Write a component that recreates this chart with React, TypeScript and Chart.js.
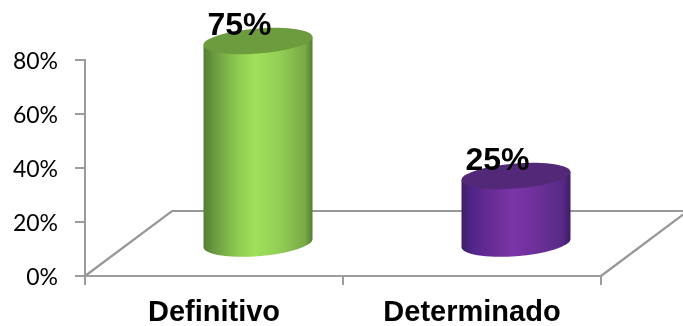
import React, { useEffect, useRef } from "react";
import { Chart, registerables } from "chart.js";

Chart.register(...registerables);

const categories = ["Definitivo", "Determinado"];
const shares = [75, 25];
const sideStops = [
  ["#527f34", "#6a9a40", "#8cc850", "#a0e05c", "#92ce55", "#79aa47", "#517e32"],
  ["#3f1d66", "#52258a", "#6a2e96", "#7b35a8", "#6c2f99", "#572a86", "#3f1d64"],
];
const capColors = ["#6c9c3e", "#532879"];
const stopOffsets = [0, 0.1, 0.3, 0.47, 0.7, 0.93, 1];
const axisColor = "#9c9c9c";
const floorColor = "#989898";

// Floor depth in pixels; cylinders stand in the middle of it.
const depthX = 87;
const depthY = 65;
const standX = 44;
const standY = 32;
const tilt = 4 / 54.5;
const capRadiusY = 12.6;
const baseRadiusY = 13.2;

const cylinderPlugin = {
  id: "cylinders",
  beforeDatasetsDraw(chart: any) {
    const { ctx, chartArea: a } = chart;
    ctx.save();
    ctx.strokeStyle = floorColor;
    ctx.lineWidth = 2.2;
    ctx.beginPath();
    ctx.moveTo(a.left, a.bottom);
    ctx.lineTo(a.left + depthX, a.bottom - depthY);
    ctx.lineTo(a.right + depthX, a.bottom - depthY);
    ctx.lineTo(a.right, a.bottom);
    ctx.stroke();
    ctx.restore();
  },
  afterDatasetsDraw(chart: any) {
    const { ctx } = chart;
    const bars = chart.getDatasetMeta(0).data;
    bars.forEach((bar: any, i: number) => {
      const r = bar.width / 2;
      const cx = bar.x + standX;
      const topY = bar.y - standY - 0.5;
      const baseY = bar.base - standY;
      const h = baseY - topY;

      ctx.save();
      ctx.transform(1, -tilt, 0, 1, cx, topY);
      const grad = ctx.createLinearGradient(-r, 0, r, 0);
      sideStops[i].forEach((c, k) => grad.addColorStop(stopOffsets[k], c));
      ctx.fillStyle = grad;
      ctx.beginPath();
      ctx.moveTo(-r, 0);
      ctx.lineTo(-r, h);
      ctx.ellipse(0, h, r, baseRadiusY, 0, Math.PI, 0, true);
      ctx.lineTo(r, 0);
      ctx.closePath();
      ctx.fill();

      ctx.fillStyle = capColors[i];
      ctx.beginPath();
      ctx.ellipse(0, 0, r, capRadiusY, 0, 0, Math.PI * 2);
      ctx.fill();
      ctx.restore();
    });

    ctx.save();
    ctx.fillStyle = "#000000";
    ctx.font = "bold 32px 'Liberation Sans'";
    ctx.textAlign = "center";
    ctx.textBaseline = "alphabetic";
    bars.forEach((bar: any, i: number) => {
      ctx.fillText(`${shares[i]}%`, bar.x + 25.5, bar.y - standY - 6.5);
    });
    ctx.restore();
  },
};

export default function App() {
  const ref = useRef<HTMLCanvasElement | null>(null);

  useEffect(() => {
    document.body.style.margin = "0";
    const chart = new Chart(ref.current as HTMLCanvasElement, {
      type: "bar",
      data: {
        labels: categories,
        datasets: [
          {
            data: shares,
            backgroundColor: "transparent",
            categoryPercentage: 1,
            barPercentage: 0.4225,
          },
        ],
      },
      options: {
        responsive: false,
        animation: false,
        layout: { padding: { top: 60, right: 82, left: 0, bottom: 0 } },
        plugins: { legend: { display: false }, tooltip: { enabled: false } },
        scales: {
          x: {
            afterFit(scale: any) {
              scale.height = 50;
            },
            grid: {
              drawOnChartArea: false,
              color: axisColor,
              lineWidth: 2,
              tickLength: 9,
            },
            border: { color: axisColor, width: 2 },
            ticks: {
              color: "#000000",
              padding: 11,
              maxRotation: 0,
              font: { family: "'Liberation Sans'", size: 29, weight: "bold" },
            },
          },
          y: {
            min: 0,
            max: 80,
            afterFit(scale: any) {
              scale.width = 85;
            },
            grid: {
              drawOnChartArea: false,
              color: axisColor,
              lineWidth: 2,
              tickLength: 10,
            },
            border: { color: axisColor, width: 2 },
            ticks: {
              stepSize: 20,
              color: "#000000",
              padding: 17,
              labelOffset: 1.5,
              font: { family: "Lato", size: 23 },
              callback: (v: any) => `${v}%`,
            },
          },
        },
      },
      plugins: [cylinderPlugin],
    } as any);
    return () => chart.destroy();
  }, []);

  return <canvas ref={ref} width={683} height={326} style={{ display: "block" }} />;
}
